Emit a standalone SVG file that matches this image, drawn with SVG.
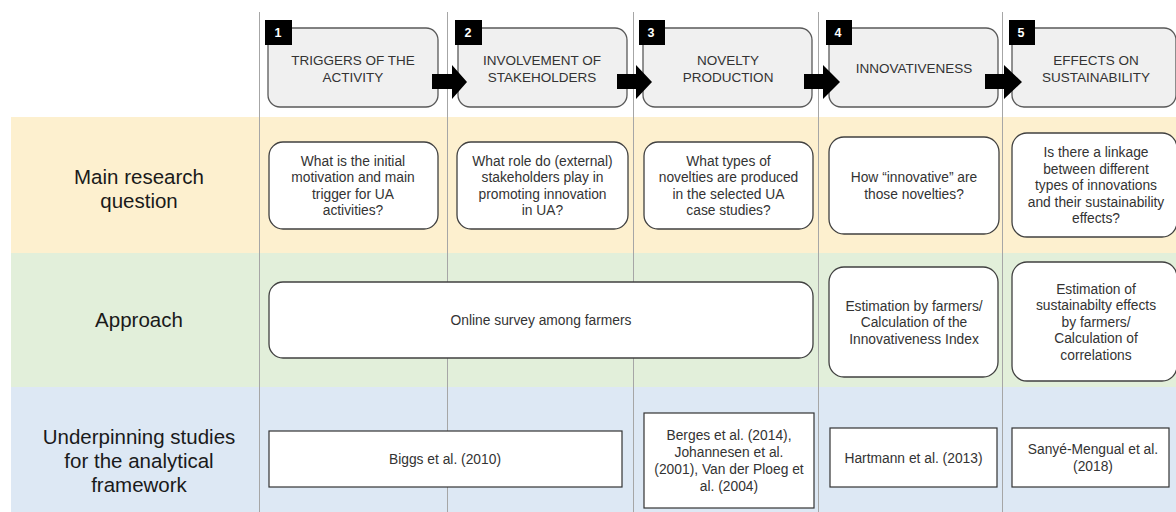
<svg xmlns="http://www.w3.org/2000/svg" width="1176" height="512" viewBox="0 0 1176 512">
<style>
.lbl{font-family:"Liberation Sans",Arial,sans-serif;font-size:20.5px;fill:#1a1a1a;text-anchor:middle}
.hd{fill:#f0f0f0;stroke:#595959;stroke-width:1.3}
.ht{font-family:"Liberation Sans",Arial,sans-serif;font-size:13.5px;fill:#333;text-anchor:middle}
.bd{fill:#000}
.bn{font-family:"Liberation Sans",Arial,sans-serif;font-size:12.5px;font-weight:bold;fill:#fff;text-anchor:middle}
.q{fill:#fff;stroke:#404040;stroke-width:1.3}
.t{font-family:"Liberation Sans",Arial,sans-serif;font-size:13.8px;fill:#333;text-anchor:middle}
.c{fill:#fff;stroke:#333;stroke-width:1.2}
.vl{stroke:#a6a6a6;stroke-width:1}
.ar{fill:#000}
</style>
<rect x="0" y="0" width="1176" height="512" fill="#fff"/>
<g id="bands">
<rect x="11" y="117" width="1165" height="136" fill="#fdf0cf"/>
<rect x="11" y="253" width="1165" height="134" fill="#e2efda"/>
<rect x="11" y="387" width="1165" height="125" fill="#dde8f4"/>
</g>
<g id="columns">
<line class="vl" x1="259.5" y1="12" x2="259.5" y2="512"/>
<line class="vl" x1="447.5" y1="12" x2="447.5" y2="512"/>
<line class="vl" x1="633.5" y1="12" x2="633.5" y2="512"/>
<line class="vl" x1="818.5" y1="12" x2="818.5" y2="512"/>
<line class="vl" x1="1002.5" y1="12" x2="1002.5" y2="512"/>
</g>
<g id="row-labels">
<text class="lbl" x="139" y="184">Main research</text>
<text class="lbl" x="139" y="208">question</text>
<text class="lbl" x="139" y="327">Approach</text>
<text class="lbl" x="139" y="444">Underpinning studies</text>
<text class="lbl" x="139" y="468">for the analytical</text>
<text class="lbl" x="139" y="492">framework</text>
</g>
<g id="h1">
<rect class="hd" x="268" y="28" width="170" height="79" rx="12"/>
<rect class="bd" x="265" y="20" width="27" height="25"/>
<text class="bn" x="278" y="37">1</text>
<text class="ht" x="353" y="65">TRIGGERS OF THE</text>
<text class="ht" x="353" y="82">ACTIVITY</text>
</g>
<g id="h2">
<rect class="hd" x="458" y="28" width="169" height="79" rx="12"/>
<rect class="bd" x="455" y="20" width="27" height="25"/>
<text class="bn" x="468" y="37">2</text>
<text class="ht" x="542" y="65">INVOLVEMENT OF</text>
<text class="ht" x="542" y="82">STAKEHOLDERS</text>
</g>
<g id="h3">
<rect class="hd" x="643" y="28" width="169" height="79" rx="12"/>
<rect class="bd" x="639" y="20" width="26" height="25"/>
<text class="bn" x="651" y="37">3</text>
<text class="ht" x="728" y="65">NOVELTY</text>
<text class="ht" x="728" y="82">PRODUCTION</text>
</g>
<g id="h4">
<rect class="hd" x="829" y="28" width="169" height="79" rx="12"/>
<rect class="bd" x="826" y="20" width="26" height="25"/>
<text class="bn" x="838" y="37">4</text>
<text class="ht" x="914" y="73">INNOVATIVENESS</text>
</g>
<g id="h5">
<rect class="hd" x="1012" y="28" width="164" height="79" rx="12"/>
<rect class="bd" x="1009" y="20" width="26" height="25"/>
<text class="bn" x="1021" y="37">5</text>
<text class="ht" x="1096" y="65">EFFECTS ON</text>
<text class="ht" x="1096" y="82">SUSTAINABILITY</text>
</g>
<g id="connectors">
<path class="ar" d="M432,74 H452 V65 L467,82 L452,99 V89 H432 Z"/>
<path class="ar" d="M617,74 H636 V65 L652,82 L636,99 V89 H617 Z"/>
<path class="ar" d="M804,74 H823 V65 L840,82 L823,99 V89 H804 Z"/>
<path class="ar" d="M985,74 H1004 V65 L1022,82 L1004,99 V89 H985 Z"/>
</g>
<g id="q1">
<rect class="q" x="269" y="142" width="169" height="87" rx="14"/>
<text class="t" x="353" y="165.8">What is the initial</text>
<text class="t" x="353" y="182.3">motivation and main</text>
<text class="t" x="353" y="198.8">trigger for UA</text>
<text class="t" x="353" y="215.3">activities?</text>
</g>
<g id="q2">
<rect class="q" x="457" y="142" width="171" height="87" rx="14"/>
<text class="t" x="542.5" y="165.8">What role do (external)</text>
<text class="t" x="542.5" y="182.3">stakeholders play in</text>
<text class="t" x="542.5" y="198.8">promoting innovation</text>
<text class="t" x="542.5" y="215.3">in UA?</text>
</g>
<g id="q3">
<rect class="q" x="644" y="142" width="169" height="87" rx="14"/>
<text class="t" x="728.5" y="165.8">What types of</text>
<text class="t" x="728.5" y="182.3">novelties are produced</text>
<text class="t" x="728.5" y="198.8">in the selected UA</text>
<text class="t" x="728.5" y="215.3">case studies?</text>
</g>
<g id="q4">
<rect class="q" x="829" y="137" width="170" height="97" rx="15"/>
<text class="t" x="914" y="182.3">How “innovative” are</text>
<text class="t" x="914" y="198.8">those novelties?</text>
</g>
<g id="q5">
<rect class="q" x="1012" y="133" width="165" height="104" rx="15"/>
<text class="t" x="1096" y="157">Is there a linkage</text>
<text class="t" x="1096" y="173.5">between different</text>
<text class="t" x="1096" y="190">types of innovations</text>
<text class="t" x="1096" y="206.5">and their sustainability</text>
<text class="t" x="1096" y="223">effects?</text>
</g>
<g id="a1">
<rect class="q" x="269" y="282" width="544" height="76" rx="14"/>
<text class="t" x="541" y="325">Online survey among farmers</text>
</g>
<g id="a4">
<rect class="q" x="829" y="267" width="169" height="110" rx="15"/>
<text class="t" x="914" y="310.5">Estimation by farmers/</text>
<text class="t" x="914" y="327">Calculation of the</text>
<text class="t" x="914" y="343.5">Innovativeness Index</text>
</g>
<g id="a5">
<rect class="q" x="1012" y="262" width="165" height="119" rx="15"/>
<text class="t" x="1096" y="293.5">Estimation of</text>
<text class="t" x="1096" y="310">sustainabilty effects</text>
<text class="t" x="1096" y="326.5">by farmers/</text>
<text class="t" x="1096" y="343">Calculation of</text>
<text class="t" x="1096" y="359.5">correlations</text>
</g>
<g id="s1">
<rect class="c" x="269" y="431" width="353" height="56"/>
<text class="t" x="445" y="464">Biggs et al. (2010)</text>
</g>
<g id="s3">
<rect class="c" x="644" y="413" width="170" height="95"/>
<text class="t" x="729" y="440">Berges et al. (2014),</text>
<text class="t" x="729" y="457">Johannesen et al.</text>
<text class="t" x="729" y="474">(2001), Van der Ploeg et</text>
<text class="t" x="729" y="491">al. (2004)</text>
</g>
<g id="s4">
<rect class="c" x="830" y="428" width="167" height="59"/>
<text class="t" x="913.5" y="462.5">Hartmann et al. (2013)</text>
</g>
<g id="s5">
<rect class="c" x="1012" y="428" width="157" height="59"/>
<text class="t" x="1093" y="454">Sanyé-Mengual et al.</text>
<text class="t" x="1093" y="470.5">(2018)</text>
</g>
</svg>
